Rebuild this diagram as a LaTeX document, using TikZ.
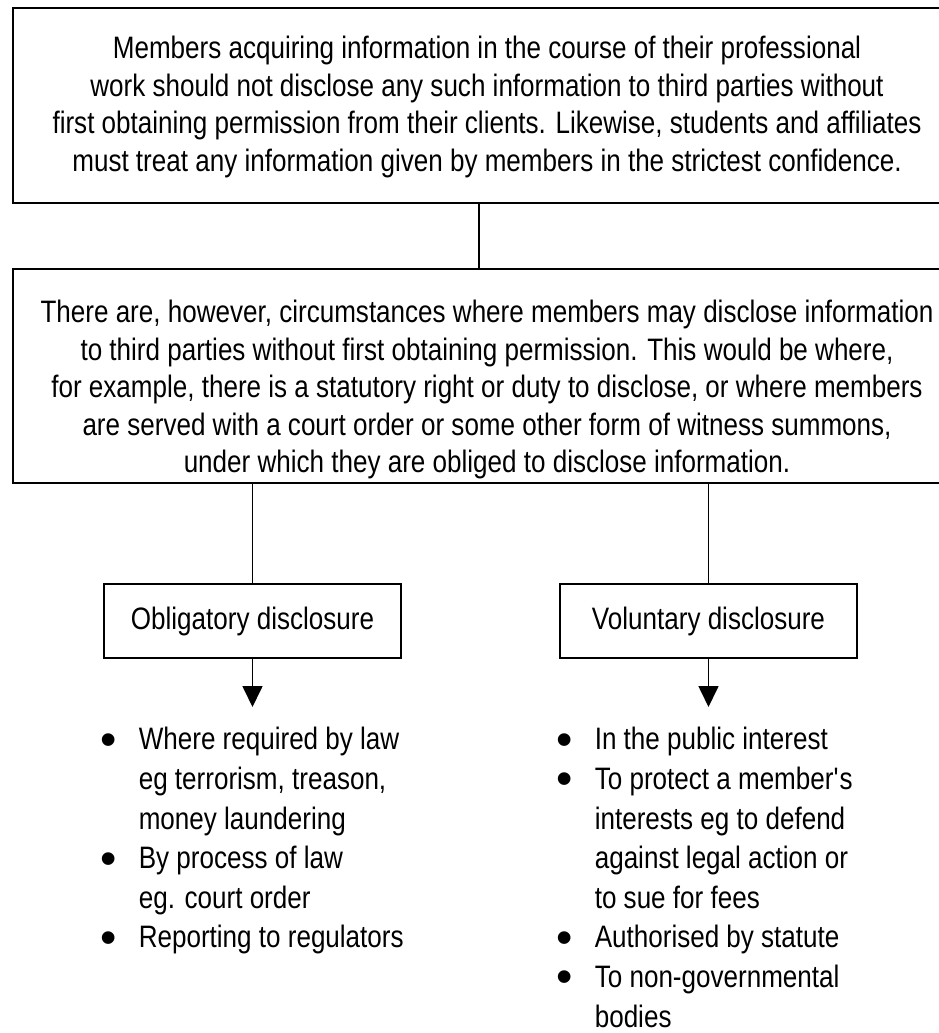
\documentclass[tikz,border=0pt]{standalone}
\usepackage{fontspec}
\setmainfont{Liberation Sans}[FakeStretch=0.84]
\usepackage{graphicx}
\usetikzlibrary{arrows.meta}

\newcommand{\blt}{\makebox[38pt][l]{\raisebox{-5.5pt}[0pt][0pt]{\scalebox{1.79}[1.5]{\textbullet}}}}
\newcommand{\bsk}{\hspace*{38pt}}

\begin{document}
\begin{tikzpicture}[x=1pt,y=-1pt]
\tikzset{ >={Triangle[width=20pt,length=21pt]}, inner sep=0pt, outer sep=0pt,
  every node/.style={font=\fontsize{31}{37.5}\selectfont},
  box/.style={draw, line width=1.7pt},
  wire/.style={line width=1.7pt} }
%\draw [lightgray, dashed](0,0) grid [step=50] (938,1033);
\useasboundingbox (0,0) rectangle (938,1033);

\node [box, minimum width=932pt, minimum height=195pt] (info) at (479,105.5) {};
\node [box, minimum width=932pt, minimum height=214pt] (exce) at (479,376) {};
\node [box, minimum width=297pt, minimum height=74pt] (oblig) at (252.5,621) {Obligatory disclosure};
\node [box, minimum width=297pt, minimum height=74pt] (volun) at (708.5,621) {Voluntary disclosure};

\node [align=center] (infotext) at (487,107) {Members acquiring information in the course of their professional\\
work should not disclose any such information to third parties without\\
first obtaining permission from their clients. Likewise, students and affiliates\\
must treat any information given by members in the strictest confidence.};

\node [align=center] (excetext) at (487,389.5) {There are, however, circumstances where members may disclose information\\
to third parties without first obtaining permission. This would be where,\\
for example, there is a statutory right or duty to disclose, or where members\\
are served with a court order or some other form of witness summons,\\
under which they are obliged to disclose information.};

\coordinate (obligtip) at (252.5,707);
\coordinate (voluntip) at (708.5,707);

\draw [wire] (info.south) -- (exce.north);
\draw [wire] (oblig.north |- exce.south) -- (oblig.north);
\draw [wire] (volun.north |- exce.south) -- (volun.north);
\draw [wire, ->] (oblig.south) -- (obligtip);
\draw [wire, ->] (volun.south) -- (voluntip);

\node [anchor=north west, align=left, font=\fontsize{31}{39.6}\selectfont] (obliglist) at (100.8,727.4)
  {\blt Where required by law\\ \bsk eg terrorism, treason,\\ \bsk money laundering\\
   \blt By process of law\\ \bsk eg. court order\\ \blt Reporting to regulators};
\node [anchor=north west, align=left, font=\fontsize{31}{39.6}\selectfont] (volunlist) at (556.8,727.4)
  {\blt In the public interest\\ \blt To protect a member\textquotesingle s\\ \bsk interests eg to defend\\
   \bsk against legal action or\\ \bsk to sue for fees\\ \blt Authorised by statute\\
   \blt To non-governmental\\ \bsk bodies};

\end{tikzpicture}
\end{document}
